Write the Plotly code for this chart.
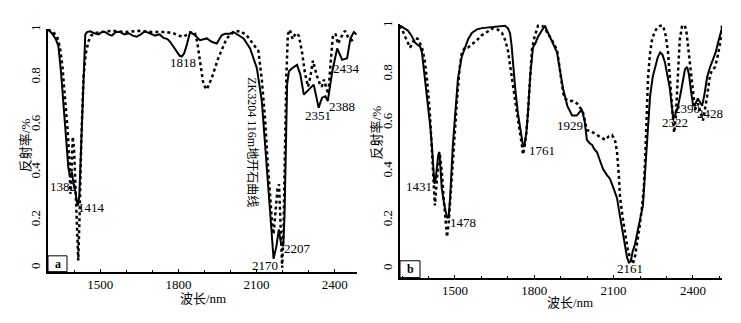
import plotly.graph_objects as go

# ---------------- Panel a: dickite ----------------
a_sample_wl = [1300,1315,1330,1340,1350,1360,1370,1378,1385,1392,1398,1405,1410,1415,1420,1425,1431,1437,1443,1450,
               1462,1478,1494,1507,1519,1532,1545,1560,1577,1593,1609,1625,1640,1656,1672,1690,1711,1728,1743,1758,
               1768,1780,1794,1805,1813,1822,1832,1845,1864,1883,1909,1928,1947,1966,1979,1998,2011,2024,2050,2075,
               2101,2120,2140,2153,2165,2176,2185,2194,2202,2207,2212,2217,2224,2236,2255,2268,2281,2300,2319,2338,
               2351,2364,2373,2390,2409,2428,2447,2460,2473,2483]
a_sample_r = [1.0,0.985,0.96,0.93,0.82,0.68,0.52,0.42,0.38,0.40,0.35,0.32,0.28,0.26,0.30,0.45,0.65,0.85,0.98,0.99,
              0.993,0.985,0.98,0.99,0.99,0.98,0.975,0.99,0.99,0.98,0.985,0.975,0.97,0.98,0.993,0.985,0.975,0.98,0.965,0.96,
              0.949,0.93,0.905,0.89,0.887,0.90,0.935,0.99,0.976,0.956,0.963,0.949,0.942,0.976,0.983,0.983,0.99,0.98,0.963,0.921,
              0.838,0.70,0.423,0.216,0.037,0.09,0.16,0.10,0.09,0.216,0.49,0.77,0.825,0.838,0.852,0.81,0.727,0.748,0.769,0.672,
              0.714,0.72,0.70,0.824,0.921,0.873,0.88,0.963,0.99,0.98]

a_std_wl = [1300,1320,1335,1345,1355,1365,1375,1382,1386,1390,1395,1400,1405,1410,1416,1422,1428,1436,1445,1455,
            1465,1480,1500,1550,1600,1650,1700,1750,1780,1800,1820,1840,1862,1872,1883,1896,1909,1928,1953,1985,
            2011,2036,2062,2094,2107,2120,2132,2142,2151,2160,2165,2172,2180,2186,2190,2194,2198,2203,2208,2214,
            2220,2228,2238,2250,2262,2275,2285,2297,2306,2316,2330,2343,2350,2358,2366,2375,2383,2393,2403,2412,
            2425,2439,2450,2465,2478]
a_std_r = [1.0,0.99,0.97,0.93,0.85,0.72,0.58,0.45,0.31,0.40,0.55,0.50,0.35,0.18,0.03,0.25,0.55,0.80,0.90,0.95,
           0.975,0.985,0.99,0.995,0.99,0.995,0.99,0.99,0.985,0.975,0.97,0.985,0.99,0.95,0.866,0.77,0.748,0.797,0.88,0.963,
           0.99,0.995,0.976,0.93,0.91,0.79,0.63,0.45,0.30,0.18,0.14,0.22,0.33,0.35,0.25,0.10,0.0,0.15,0.45,0.80,
           0.98,1.0,0.96,0.985,0.975,0.90,0.82,0.76,0.80,0.87,0.81,0.77,0.76,0.79,0.76,0.73,0.85,0.98,0.98,0.94,
           0.97,0.995,0.97,0.955,0.96]

a_peak_labels = ["1382","1414","1818","2170","2207","2351","2388","2434"]
a_peak_wl = [1358,1466,1818,2132,2255,2335,2427,2446]
a_peak_r = [0.34,0.253,0.86,0.008,0.079,0.64,0.676,0.838]

# ---------------- Panel b: alunite ----------------
b_sample_wl = [1292,1305,1322,1335,1349,1360,1368,1375,1385,1398,1407,1413,1418,1422,1426,1432,1437,1441,1445,1450,
               1460,1470,1476,1482,1492,1502,1511,1525,1538,1550,1564,1583,1602,1625,1651,1670,1689,1700,1708,1714,
               1719,1728,1738,1750,1758,1763,1770,1776,1785,1795,1805,1814,1827,1840,1850,1859,1872,1886,1898,1909,
               1925,1943,1960,1970,1980,1990,1999,2010,2018,2028,2037,2050,2060,2075,2086,2100,2113,2125,2132,2142,
               2151,2158,2165,2172,2181,2190,2200,2211,2218,2226,2232,2238,2248,2257,2267,2276,2285,2294,2303,2313,
               2320,2325,2332,2344,2355,2363,2370,2378,2385,2393,2401,2410,2419,2427,2435,2444,2454,2465,2476,2486,
               2495,2503,2510]
b_sample_r = [1.0,0.99,0.98,0.96,0.93,0.92,0.915,0.89,0.80,0.68,0.58,0.50,0.42,0.35,0.36,0.43,0.47,0.48,0.42,0.33,
              0.26,0.21,0.21,0.30,0.51,0.67,0.78,0.87,0.91,0.945,0.97,0.985,0.99,0.993,0.995,1.0,1.0,0.99,0.97,0.92,
              0.85,0.74,0.64,0.55,0.50,0.51,0.56,0.64,0.80,0.91,0.93,0.955,0.98,1.0,0.975,0.955,0.92,0.89,0.81,0.74,
              0.67,0.63,0.63,0.645,0.655,0.61,0.53,0.515,0.51,0.49,0.48,0.44,0.41,0.385,0.37,0.33,0.29,0.21,0.17,0.10,
              0.045,0.025,0.03,0.07,0.10,0.15,0.21,0.26,0.38,0.53,0.63,0.71,0.79,0.83,0.87,0.89,0.88,0.85,0.80,0.74,
              0.67,0.62,0.63,0.67,0.73,0.78,0.82,0.83,0.80,0.73,0.67,0.68,0.70,0.685,0.67,0.72,0.79,0.83,0.86,0.89,
              0.93,0.96,0.99]

b_std_wl = [1292,1300,1311,1322,1330,1340,1349,1360,1375,1385,1394,1405,1413,1419,1424,1428,1433,1438,1443,1450,
            1458,1465,1470,1477,1483,1489,1497,1508,1517,1526,1538,1549,1566,1583,1600,1613,1630,1644,1660,1678,
            1690,1700,1710,1720,1727,1740,1753,1757,1763,1770,1777,1785,1791,1800,1814,1825,1837,1850,1867,1886,
            1900,1910,1916,1930,1946,1962,1975,1985,1999,2015,2037,2055,2068,2082,2094,2105,2113,2120,2124,2133,
            2143,2153,2162,2173,2181,2189,2198,2208,2214,2219,2225,2230,2237,2245,2255,2264,2276,2287,2297,2306,
            2313,2321,2329,2335,2340,2344,2350,2359,2370,2376,2382,2390,2397,2408,2419,2428,2438,2446,2454,2465,
            2475,2484,2495,2503,2510]
b_std_r = [1.0,0.985,0.955,0.925,0.91,0.93,0.95,0.945,0.91,0.86,0.78,0.64,0.50,0.37,0.26,0.32,0.40,0.45,0.47,0.40,
           0.28,0.18,0.13,0.20,0.29,0.37,0.52,0.70,0.82,0.89,0.91,0.91,0.925,0.94,0.96,0.97,0.98,0.99,0.985,0.97,
           0.94,0.90,0.82,0.74,0.70,0.60,0.51,0.47,0.50,0.56,0.66,0.80,0.90,0.95,1.0,1.0,0.995,0.97,0.94,0.90,
           0.80,0.72,0.70,0.69,0.69,0.68,0.66,0.64,0.57,0.565,0.55,0.54,0.53,0.545,0.55,0.53,0.48,0.38,0.30,0.22,
           0.15,0.08,0.045,0.02,0.05,0.10,0.17,0.26,0.33,0.44,0.62,0.78,0.88,0.94,0.975,0.99,1.0,1.0,0.96,0.89,
           0.78,0.67,0.56,0.62,0.75,0.85,0.94,1.0,1.0,0.97,0.91,0.82,0.74,0.655,0.68,0.65,0.61,0.66,0.71,0.80,
           0.82,0.83,0.88,0.93,1.0]

b_peak_labels = ["1431","1478","1761","1929","2161","2322","2390","2428"]
b_peak_wl = [1364,1530,1829,1935,2162,2332,2378,2465]
b_peak_r = [0.337,0.19,0.488,0.589,0.0,0.60,0.66,0.64]

y_ticks = [0, 0.2, 0.4, 0.6, 0.8, 1.0]
y_ticktext = ["0", "0.2", "0.4", "0.6", "0.8", "1"]
x_ticks = [1500, 1800, 2100, 2400]
x_ticktext = ["1500", "1800", "2100", "2400"]

SERIF = "Liberation Serif, Noto Sans CJK SC"
W, H = 741, 323

fig = go.Figure()
fig.add_trace(go.Scatter(x=a_sample_wl, y=a_sample_r, mode="lines", xaxis="x", yaxis="y",
                         line=dict(color="black", width=2), showlegend=False))
fig.add_trace(go.Scatter(x=a_std_wl, y=a_std_r, mode="lines", xaxis="x", yaxis="y",
                         line=dict(color="black", width=2.5, dash="3px,3px"), showlegend=False))
fig.add_trace(go.Scatter(x=b_sample_wl, y=b_sample_r, mode="lines", xaxis="x2", yaxis="y2",
                         line=dict(color="black", width=2), showlegend=False))
fig.add_trace(go.Scatter(x=b_std_wl, y=b_std_r, mode="lines", xaxis="x2", yaxis="y2",
                         line=dict(color="black", width=2.5, dash="3px,3px"), showlegend=False))

def xax(domain, rng, anchor):
    return dict(domain=domain, range=rng, anchor=anchor, showline=True, linecolor="black", linewidth=2,
                showgrid=False, zeroline=False, tickvals=x_ticks, ticktext=x_ticktext,
                ticks="inside", ticklen=3, tickwidth=1, tickcolor="black",
                minor=dict(dtick=100, tick0=1500, ticks="inside", ticklen=2, tickcolor="black"),
                tickfont=dict(family=SERIF, size=13, color="black"))

def yax(domain, rng, anchor):
    return dict(domain=domain, range=rng, anchor=anchor, showline=True, linecolor="black", linewidth=2,
                showgrid=False, zeroline=False, tickvals=y_ticks, ticktext=y_ticktext, tickangle=-90,
                ticks="", tickfont=dict(family=SERIF, size=13, color="black"), ticklabelstandoff=1)

fig.update_layout(
    width=W, height=H, margin=dict(l=0, r=0, t=0, b=0),
    paper_bgcolor="white", plot_bgcolor="white", showlegend=False,
    xaxis=xax([48/W, 357/W], [1300, 2485], "y"),
    yaxis=yax([52/H, 298/H], [-0.017, 1.004], "x"),
    xaxis2=xax([400/W, 722/W], [1292, 2510], "y2"),
    yaxis2=yax([46/H, 303/H], [-0.037, 1.008], "x2"),
)

def A(text, x, y, xref, yref, size=13, angle=0):
    return dict(text=text, x=x, y=y, xref=xref, yref=yref, showarrow=False, textangle=angle,
                xanchor="center", yanchor="middle",
                font=dict(family=SERIF, size=size, color="black"))

ann = []
for t, x, y in zip(a_peak_labels, a_peak_wl, a_peak_r):
    ann.append(A(t, x, y, "x", "y"))
for t, x, y in zip(b_peak_labels, b_peak_wl, b_peak_r):
    ann.append(A(t, x, y, "x2", "y2"))

ann += [
    A("地开石标准曲线", 2289, 1.02, "x", "y", 12),
    A("ZK3204 116m地开石曲线", 2082, 0.527, "x", "y", 12, 90),
    A("ZK804 305.28m明矾石曲线", 1682, 1.025, "x2", "y2", 12),
    A("明矾石标准曲线", 2295, 1.025, "x2", "y2", 12),
    A("波长/nm", 203/W, 1-298/H, "paper", "paper", 13),
    A("波长/nm", 570/W, 1-302/H, "paper", "paper", 13),
    A("反射率/%", 25/W, 1-143/H, "paper", "paper", 13, -90),
    A("反射率/%", 376/W, 1-130/H, "paper", "paper", 13, -90),
    A("<b>a</b>", 9.5/309, 8/246, "x domain", "y domain", 12),
    A("<b>b</b>", 10/322, 8.5/257, "x2 domain", "y2 domain", 12),
]
fig.update_layout(annotations=ann)

fig.update_layout(shapes=[
    dict(type="rect", xref="x domain", yref="y domain", x0=0, x1=19/309, y0=0, y1=16/246,
         line=dict(color="black", width=1)),
    dict(type="rect", xref="x2 domain", yref="y2 domain", x0=0, x1=20/322, y0=0, y1=17/257,
         line=dict(color="black", width=1)),
])

fig.write_html("out.html")
